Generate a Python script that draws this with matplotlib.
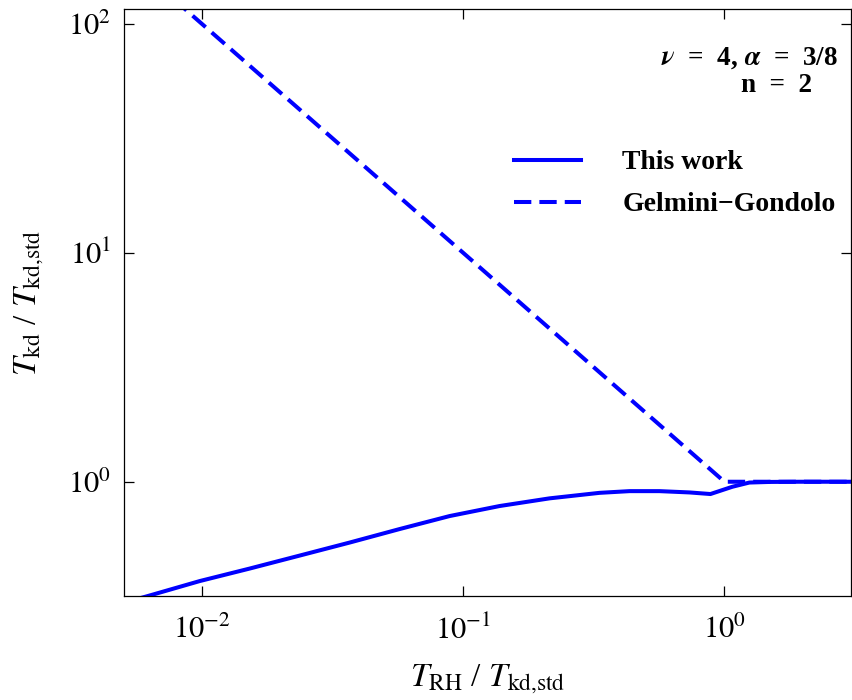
import matplotlib
matplotlib.use("Agg")
import matplotlib.pyplot as plt
from matplotlib.lines import Line2D

plt.rcParams['font.family'] = ['Liberation Serif', 'DejaVu Serif']
plt.rcParams['mathtext.fontset'] = 'stix'

# Data
this_work_x = [0.00503, 0.006217, 0.009826, 0.01526, 0.02371, 0.03681, 0.05717,
               0.08879, 0.1379, 0.2142, 0.3327, 0.4332, 0.5642, 0.7348, 0.884,
               1.073, 1.246, 1.486, 1.936, 3.1]
this_work_y = [0.2962, 0.3169, 0.3684, 0.4178, 0.4761, 0.5426, 0.6215,
               0.7082, 0.7833, 0.8462, 0.8944, 0.9099, 0.9099, 0.8981, 0.8838,
               0.951, 0.992, 0.998, 1.0, 1.0]
gg_x = [0.005, 1.0, 3.1]
gg_y = [200.0, 1.0, 1.0]

xlim = (5.04e-3, 3.05)
ylim = (0.317, 116)

fig = plt.figure(figsize=(8.52, 7.0), dpi=100)
ax = fig.add_axes([124/852, 104/700, 727/852, 587/700])

blue = '#0000ff'
lw = 2.9
dash = (0, (4.3, 2.0))
ax.plot(this_work_x, this_work_y, color=blue, lw=lw, solid_joinstyle='round')
ax.plot(gg_x, gg_y, color=blue, lw=lw, linestyle=dash)

ax.set_xscale('log')
ax.set_yscale('log')
ax.set_xlim(*xlim)
ax.set_ylim(*ylim)
ax.minorticks_off()
ax.set_xticks([1e-2, 1e-1, 1e0])
ax.set_yticks([1e0, 1e1, 1e2])
ax.set_xticklabels([r'$10^{-2}$', r'$10^{-1}$', r'$10^{0}$'])
ax.set_yticklabels([r'$10^{0}$', r'$10^{1}$', r'$10^{2}$'])
ax.tick_params(which='both', direction='in', top=True, right=True,
               length=7, width=0.9, labelsize=22)
ax.tick_params(axis='x', pad=14)
ax.tick_params(axis='y', pad=9)
for s in ax.spines.values():
    s.set_linewidth(0.9)

ax.set_xlabel(r'$T_{\rm RH}$ / $T_{\rm kd{,}std}$', fontsize=24, labelpad=12)
ax.set_ylabel(r'$T_{\rm kd}$ / $T_{\rm kd{,}std}$', fontsize=24, labelpad=16)

ax.text(0.861, 0.9165, r'$\mathbfit{\nu}$  =  4, $\mathbfit{\alpha}$  =  3/8', transform=ax.transAxes,
        ha='center', va='center', fontsize=19.5, fontweight='bold')
ax.text(0.898, 0.8705, 'n  =  2', transform=ax.transAxes,
        ha='center', va='center', fontsize=19.5, fontweight='bold')

handles = [Line2D([], [], color=blue, lw=lw),
           Line2D([], [], color=blue, lw=lw, linestyle=dash)]
leg = ax.legend(handles, ['This work', 'Gelmini\u2212Gondolo'], loc='upper left',
                bbox_to_anchor=(0.5365, 0.760), frameon=False, borderpad=0,
                borderaxespad=0, handlelength=2.4, handletextpad=1.5,
                labelspacing=0.6, prop={'weight': 'bold', 'size': 20})

fig.savefig('out.png', dpi=100)
